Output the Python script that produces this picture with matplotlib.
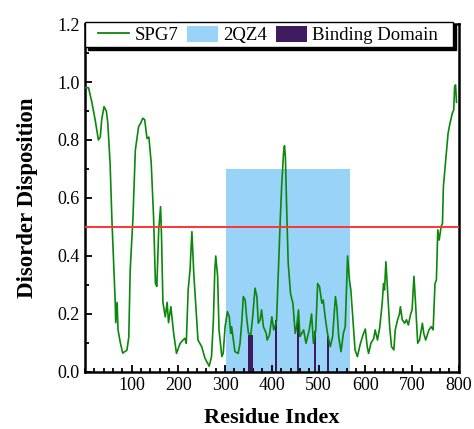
import matplotlib.pyplot as plt
from matplotlib.patches import Patch, Rectangle
from matplotlib.lines import Line2D
from matplotlib.ticker import MultipleLocator

plt.rcParams['font.family'] = ['Liberation Serif', 'DejaVu Serif']

# disorder profile of SPG7
residue = [1, 8, 15, 22, 29, 33, 36, 41, 46, 49, 54, 58, 61, 65, 66, 69, 71, 76, 81, 90,
           94, 97, 103, 108, 115, 119, 124, 128, 133, 137, 142, 147, 151, 154, 158, 162, 164,
           167, 172, 176, 179, 184, 190, 196, 204, 210, 214, 217, 221, 225, 229, 233, 239,
           242, 250, 257, 266, 271, 275, 278, 280, 284, 287, 293, 296, 300, 305, 309, 312,
           314, 321, 328, 332, 336, 339, 343, 346, 350, 355, 359, 364, 368, 371, 375, 378,
           382, 388, 390, 395, 400, 404, 410, 414, 418, 421, 425, 427, 429, 432, 435, 440,
           445, 450, 453, 457, 460, 468, 473, 480, 485, 489, 494, 498, 502, 507, 510, 514,
           519, 525, 530, 536, 539, 543, 548, 553, 557, 562, 566, 569, 574, 578, 583, 589,
           595, 600, 604, 607, 612, 618, 621, 626, 631, 636, 639, 641, 644, 648, 652, 656,
           661, 664, 669, 673, 675, 679, 684, 688, 692, 697, 700, 704, 707, 712, 716, 722,
           725, 729, 736, 741, 745, 749, 752, 755, 758, 762, 765, 767, 772, 777, 781, 786,
           789, 791, 793, 795]
disorder = [0.98, 0.98, 0.93, 0.87, 0.80, 0.81, 0.87, 0.915, 0.90, 0.86, 0.72, 0.52, 0.40,
            0.24, 0.17, 0.24, 0.145, 0.10, 0.065, 0.075, 0.12, 0.35, 0.535, 0.765, 0.846,
            0.857, 0.875, 0.87, 0.805, 0.81, 0.72, 0.535, 0.305, 0.295, 0.49, 0.57, 0.467,
            0.24, 0.19, 0.24, 0.17, 0.225, 0.133, 0.064, 0.099, 0.11, 0.116, 0.099, 0.283,
            0.352, 0.484, 0.34, 0.19, 0.11, 0.087, 0.047, 0.02, 0.053, 0.18, 0.35, 0.40, 0.33,
            0.145, 0.053, 0.064, 0.156, 0.208, 0.19, 0.133, 0.156, 0.07, 0.064, 0.099, 0.18,
            0.26, 0.248, 0.19, 0.133, 0.128, 0.19, 0.289, 0.26, 0.168, 0.18, 0.214, 0.156,
            0.133, 0.11, 0.128, 0.19, 0.145, 0.175, 0.35, 0.524, 0.64, 0.754, 0.78, 0.742,
            0.547, 0.375, 0.27, 0.237, 0.133, 0.156, 0.214, 0.122, 0.145, 0.099, 0.145, 0.2,
            0.099, 0.145, 0.305, 0.294, 0.237, 0.248, 0.19, 0.133, 0.087, 0.122, 0.26, 0.225,
            0.122, 0.07, 0.133, 0.156, 0.40, 0.317, 0.283, 0.168, 0.076, 0.053, 0.095, 0.128,
            0.148, 0.087, 0.064, 0.099, 0.116, 0.145, 0.11, 0.156, 0.237, 0.305, 0.283, 0.38,
            0.27, 0.156, 0.087, 0.076, 0.145, 0.18, 0.2, 0.225, 0.18, 0.168, 0.18, 0.162, 0.2,
            0.214, 0.33, 0.248, 0.099, 0.11, 0.168, 0.133, 0.11, 0.145, 0.156, 0.145, 0.305,
            0.317, 0.49, 0.455, 0.50, 0.513, 0.64, 0.73, 0.823, 0.857, 0.892, 0.903, 0.984,
            0.99, 0.93]

# 2QZ4 structure coverage
pdb_start, pdb_end, pdb_top = 303, 568, 0.7

# binding domain residues
bd_start = [349, 406, 453, 491, 519]
bd_width = [10, 5, 5, 4, 4]
bd_height = [0.128, 0.18, 0.18, 0.14, 0.124]

threshold = 0.5

green = '#0b870b'
blue = '#99d3f8'
purple = '#3e1b5e'

fig = plt.figure(figsize=(4.74, 4.29), dpi=100)
ax = fig.add_axes([0.179, 0.133, 0.789, 0.811])

ax.bar(pdb_start, pdb_top, width=pdb_end - pdb_start, align='edge', color=blue, zorder=1)
ax.bar(bd_start, bd_height, width=bd_width, align='edge', color=purple, zorder=2)
ax.plot(residue, disorder, color=green, lw=1.2, zorder=3)
ax.axhline(threshold, color='#ff3333', lw=1.4, zorder=4)

ax.set_xlim(0, 800)
ax.set_ylim(0, 1.2)
ax.xaxis.set_major_locator(MultipleLocator(100))
ax.xaxis.set_minor_locator(MultipleLocator(20))
ax.yaxis.set_major_locator(MultipleLocator(0.2))
ax.yaxis.set_minor_locator(MultipleLocator(0.1))
ax.set_xticks(range(100, 801, 100))
ax.set_yticklabels([f'{v:.1f}' for v in ax.get_yticks()])
ax.tick_params(which='both', direction='in', labelsize=13, width=1.3)
ax.tick_params(which='major', length=5)
ax.tick_params(which='minor', length=3)
for s in ax.spines.values():
    s.set_linewidth(1.8)

ax.set_xlabel('Residue Index', fontsize=16, fontweight='bold', labelpad=10)
ax.set_ylabel('Disorder Disposition', fontsize=16.5, fontweight='bold', labelpad=14)

# legend box with an Origin-style black drop shadow
bx0, bx1, by0, by1 = 0.0, 0.984, 0.934, 1.006
ax.add_patch(Rectangle((bx0 + 0.009, by0 - 0.009), bx1 - bx0, by1 - by0,
                       transform=ax.transAxes, facecolor='black', edgecolor='black',
                       clip_on=False, zorder=9))
ax.add_patch(Rectangle((bx0, by0), bx1 - bx0, by1 - by0, transform=ax.transAxes,
                       facecolor='white', edgecolor='black', lw=1.0,
                       clip_on=False, zorder=10))

handles = [Line2D([], [], color=green, lw=1.3),
           Patch(facecolor=blue), Patch(facecolor=purple)]
leg = ax.legend(handles, ['SPG7', '2QZ4', 'Binding Domain'], ncol=3, loc='center',
                bbox_to_anchor=(0.49, 0.969), borderaxespad=0, frameon=False,
                fontsize=13.5, handlelength=1.65, handleheight=0.95, handletextpad=0.3,
                columnspacing=0.45, borderpad=0.0)
leg.set_zorder(11)

fig.savefig('out.png', dpi=100)
